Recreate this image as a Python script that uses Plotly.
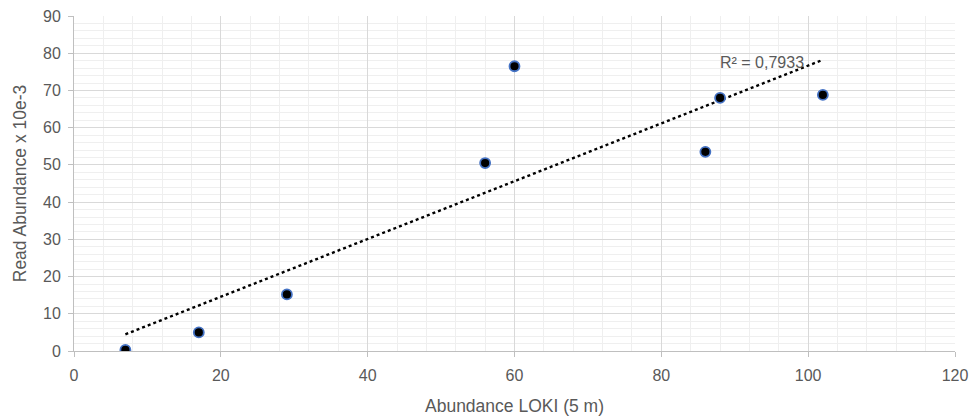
import numpy as np
import plotly.graph_objects as go

loki = [7, 17, 29, 56, 60, 86, 88, 102]
reads = [0.3, 5.0, 15.2, 50.5, 76.5, 53.5, 68.0, 68.8]
r2_label = "R² = 0,7933"

x = np.array(loki, dtype=float)
y = np.array(reads, dtype=float)
slope, intercept = np.polyfit(x, y, 1)
tx = np.array([x.min(), x.max()])
ty = slope * tx + intercept

font = "Liberation Sans, Arial, sans-serif"
grey = "#595959"

fig = go.Figure()
fig.add_trace(go.Scatter(x=tx, y=ty, mode="lines",
                         line=dict(color="black", width=2.4, dash="dot"),
                         showlegend=False, hoverinfo="skip"))
fig.add_trace(go.Scatter(x=loki, y=reads, mode="markers",
                         marker=dict(color="black", size=10,
                                     line=dict(color="#4472C4", width=1.8)),
                         showlegend=False))
fig.add_annotation(x=87.7, y=77.6, text=r2_label, showarrow=False,
                   xanchor="left", yanchor="middle",
                   font=dict(family=font, size=16, color=grey))

fig.update_layout(
    width=975, height=416,
    margin=dict(l=74, r=20, t=16, b=65),
    paper_bgcolor="white", plot_bgcolor="white",
    font=dict(family=font, size=16, color=grey),
    xaxis=dict(range=[0, 120], dtick=20, showgrid=True, gridcolor="#d9d9d9",
               gridwidth=1, zeroline=False, showline=True, linecolor="#bfbfbf",
               linewidth=1, ticks="outside", ticklen=5, tickcolor="#bfbfbf",
               automargin=False, ticklabelstandoff=5,
               minor=dict(dtick=4, showgrid=True, gridcolor="#efefef", gridwidth=1),
               title=dict(text="Abundance LOKI (5 m)", standoff=19,
                          font=dict(size=17.5, color=grey)),
               tickfont=dict(size=16, color=grey)),
    yaxis=dict(range=[0, 90], dtick=10, showgrid=True, gridcolor="#d9d9d9",
               gridwidth=1, zeroline=False, showline=True, linecolor="#bfbfbf",
               linewidth=1, ticks="outside", ticklen=5, tickcolor="#bfbfbf",
               automargin=False, ticklabelstandoff=4,
               minor=dict(dtick=2, showgrid=True, gridcolor="#efefef", gridwidth=1),
               title=dict(text="Read Abundance x 10e-3", standoff=11,
                          font=dict(size=17.5, color=grey)),
               tickfont=dict(size=16, color=grey)),
)

fig.write_html("out.html", config={"displayModeBar": False},
               post_script="document.body.style.margin='0';document.body.style.padding='0';")
